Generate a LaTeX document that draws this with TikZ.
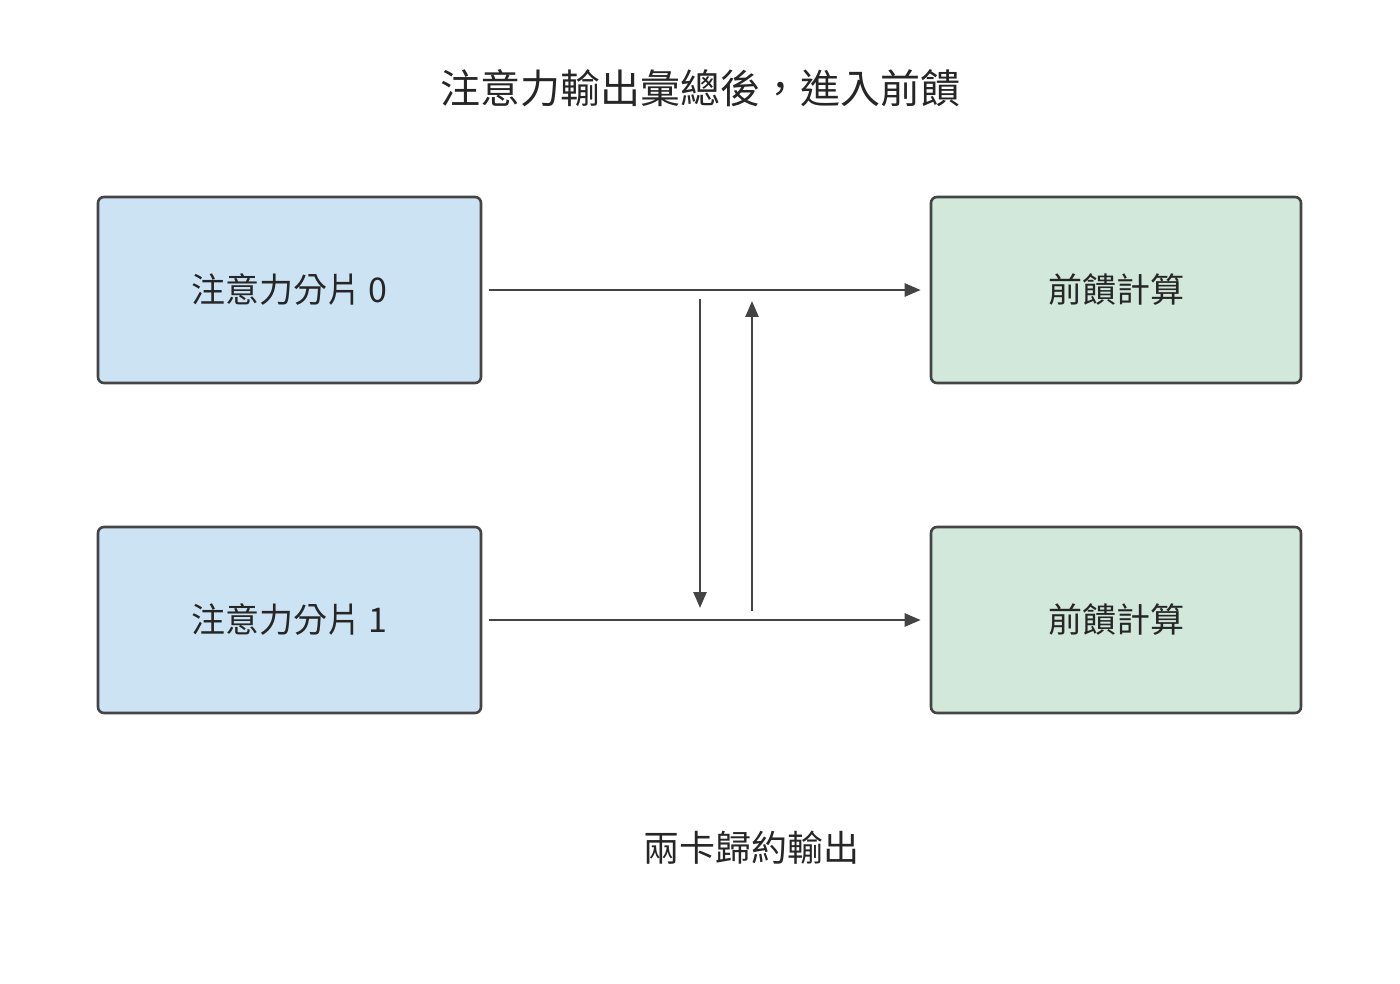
\documentclass[tikz,border=0pt]{standalone}
\usepackage{fontspec}
\setmainfont{Noto Sans CJK TC}
\usetikzlibrary{arrows.meta}
\definecolor{ln}{HTML}{444444}
\definecolor{bl}{HTML}{CCE3F3}
\definecolor{gr}{HTML}{D1E8DB}
\begin{document}
\begin{tikzpicture}[x=1pt,y=-1pt,
  box/.style={draw=ln,line width=2.6pt,rounded corners=6pt,minimum width=383pt,minimum height=186pt,font=\fontsize{34}{40}\selectfont,text=black!85},
  arr/.style={draw=ln,line width=2.6pt,-{Triangle[length=16pt,width=13pt]}}]
\useasboundingbox (0,0) rectangle (1400,984);
\node[font=\fontsize{40}{48}\selectfont,text=black!85] (title) at (700,88) {注意力輸出彙總後，進入前饋};
\node[box,fill=bl] (a0) at (289.5,290) {注意力分片 0};
\node[box,fill=bl] (a1) at (289.5,620) {注意力分片 1};
\node[box,fill=gr,minimum width=370pt] (f0) at (1116,290) {前饋計算};
\node[box,fill=gr,minimum width=370pt] (f1) at (1116,620) {前饋計算};
\node[font=\fontsize{36}{44}\selectfont,text=black!85] (lbl) at (751,848) {兩卡歸約輸出};
\coordinate (d0) at (700,299); \coordinate (d1) at (700,608);
\coordinate (u0) at (752,611); \coordinate (u1) at (752,301);
\draw[arr] ([xshift=7pt]a0.east) -- ([xshift=-9pt]f0.west);
\draw[arr] ([xshift=7pt]a1.east) -- ([xshift=-9pt]f1.west);
\draw[arr] (d0) -- (d1);
\draw[arr] (u0) -- (u1);
\end{tikzpicture}
\end{document}
